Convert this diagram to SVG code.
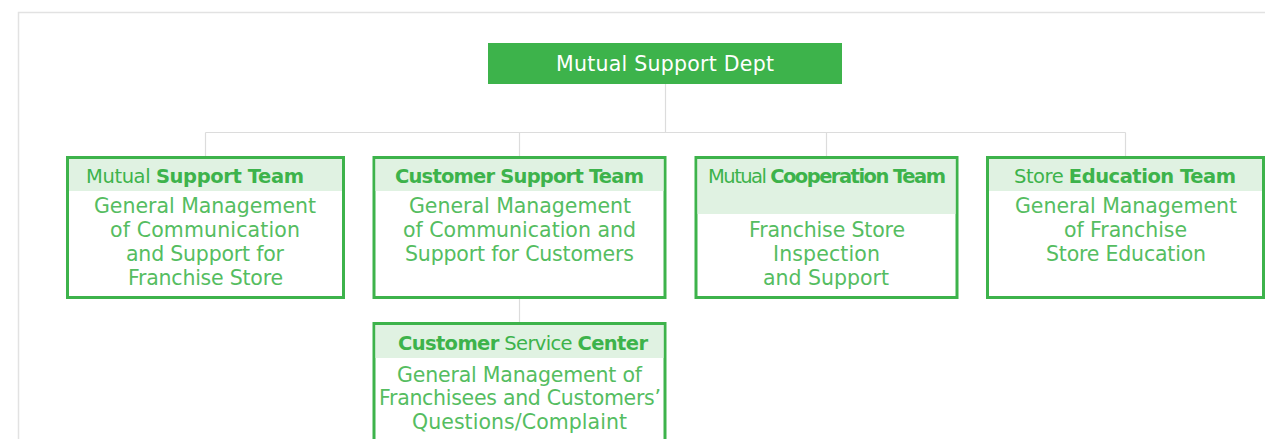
<svg xmlns="http://www.w3.org/2000/svg" width="1266" height="439" viewBox="0 0 1266 439">
<style>
.box{fill:#ffffff;stroke:#3db34b;stroke-width:3}
.band{fill:#e0f2e2}
.hd{font-family:"DejaVu Sans",sans-serif;font-size:19.5px;fill:#3db34b;text-anchor:middle}
.b{font-weight:bold}
.bd{font-family:"DejaVu Sans",sans-serif;font-size:20.5px;fill:#55bd61;text-anchor:middle}
.ln{stroke:#dcdcdc;stroke-width:1.2;fill:none}
</style>
<rect x="0" y="0" width="1266" height="439" fill="#ffffff"/>
<path d="M18.5 439 V12.5 H1265" stroke="#e2e2e2" stroke-width="1.5" fill="none"/>
<g id="connectors">
<path class="ln" d="M665.5 84 V132.5 M205.5 132.5 H1125.5 M205.5 132.5 V156 M519.5 132.5 V156 M826.5 132.5 V156 M1125.5 132.5 V156 M519.5 299 V322"/>
</g>
<g id="dept">
<rect x="488" y="43" width="354" height="41" fill="#3db34b"/>
<text x="665" y="71" font-family="DejaVu Sans,sans-serif" font-size="20.5" fill="#ffffff" text-anchor="middle" textLength="218">Mutual Support Dept</text>
</g>
<g id="mutual-support-team">
<rect class="box" x="67.5" y="157.5" width="276" height="140"/>
<rect class="band" x="69" y="159" width="273" height="32"/>
<text class="hd" x="195" y="183" textLength="218">Mutual <tspan class="b">Support Team</tspan></text>
<text class="bd" x="205" y="213" textLength="222">General Management</text>
<text class="bd" x="205" y="237" textLength="190">of Communication</text>
<text class="bd" x="205" y="261" textLength="158">and Support for</text>
<text class="bd" x="205.5" y="285" textLength="155">Franchise Store</text>
</g>
<g id="customer-support-team">
<rect class="box" x="374" y="157.5" width="291" height="140"/>
<rect class="band" x="375.5" y="159" width="288" height="32"/>
<text class="hd b" x="519.5" y="183" textLength="249">Customer Support Team</text>
<text class="bd" x="520" y="213" textLength="222">General Management</text>
<text class="bd" x="519.5" y="237" textLength="233">of Communication and</text>
<text class="bd" x="519.5" y="261" textLength="229">Support for Customers</text>
</g>
<g id="mutual-cooperation-team">
<rect class="box" x="696" y="157.5" width="261" height="140"/>
<rect class="band" x="697.5" y="159" width="258" height="55"/>
<text class="hd" x="827" y="183" textLength="238">Mutual <tspan class="b">Cooperation Team</tspan></text>
<text class="bd" x="827" y="237" textLength="156">Franchise Store</text>
<text class="bd" x="826.5" y="261" textLength="107">Inspection</text>
<text class="bd" x="826" y="285" textLength="126">and Support</text>
</g>
<g id="store-education-team">
<rect class="box" x="987.5" y="157.5" width="276" height="140"/>
<rect class="band" x="989" y="159" width="273" height="32"/>
<text class="hd" x="1125" y="183" textLength="222">Store <tspan class="b">Education Team</tspan></text>
<text class="bd" x="1126" y="213" textLength="222">General Management</text>
<text class="bd" x="1125.5" y="237" textLength="123">of Franchise</text>
<text class="bd" x="1126" y="261" textLength="160">Store Education</text>
</g>
<g id="customer-service-center">
<rect class="box" x="374" y="323.5" width="291" height="140"/>
<rect class="band" x="375.5" y="325" width="288" height="33"/>
<text class="hd" x="523" y="350" textLength="250"><tspan class="b">Customer</tspan>  Service <tspan class="b">Center</tspan></text>
<text class="bd" x="519.5" y="382" textLength="245">General Management of</text>
<text class="bd" x="520" y="405" textLength="282">Franchisees and Customers’</text>
<text class="bd" x="519.5" y="429" textLength="215">Questions/Complaint</text>
</g>
</svg>
